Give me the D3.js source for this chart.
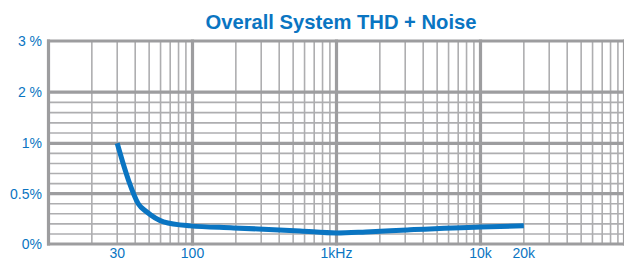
<!DOCTYPE html>
<html>
<head>
<meta charset="utf-8">
<script src="https://cdn.jsdelivr.net/npm/d3@7"></script>
<style>
  html, body { margin: 0; padding: 0; background: #fff; }
  svg { display: block; font-family: "Liberation Sans", Arial, sans-serif; }
</style>
</head>
<body>
<svg id="chart" width="624" height="261"></svg>
<script>
// values
var freqs = [30, 36, 42, 48, 63, 96, 193, 558, 1000, 1600, 3100, 10000, 20000];
var thd = [1.0, 0.63, 0.40, 0.32, 0.22, 0.18, 0.16, 0.13, 0.11, 0.12, 0.14, 0.17, 0.18];

var xLabels = [30, 100, 1000, 10000, 20000];
var xLabelText = ['30', '100', '1kHz', '10k', '20k'];
var yLabels = [0, 0.5, 1, 2, 3];
var yLabelText = ['0%', '0.5%', '1%', '2 %', '3 %'];
var yMajor = [0, 0.5, 1, 2, 3];
var yMinor = [0.1, 0.2, 0.3, 0.4, 0.6, 0.7, 0.8, 0.9, 1.2, 1.4, 1.6, 1.8];

var blue = '#0a75c2';
var gridThin = '#aeaeb0';
var gridThick = '#9d9d9f';

var svg = d3.select('#chart');

var x = d3.scaleLog()
  .domain([10, 100000])
  .range([48.5, 624.5]);

var y = d3.scaleLinear()
  .domain([0, 1, 3])
  .range([244, 143.3, 41]);

var g = svg.append('g');

function isDecade(d) {
  var l = Math.log10(d);
  return Math.abs(l - Math.round(l)) < 1e-9;
}

// vertical grid
var xTicks = x.ticks();
g.selectAll('.vgrid')
  .data(xTicks.filter(function(d) { return !isDecade(d); }))
  .enter()
  .append('line')
  .attr('x1', function(d) { return x(d); })
  .attr('x2', function(d) { return x(d); })
  .attr('y1', y(3))
  .attr('y2', y(0))
  .attr('stroke', gridThin)
  .attr('stroke-width', 1.6);

// horizontal grid
g.selectAll('.hminor')
  .data(yMinor)
  .enter()
  .append('line')
  .attr('x1', x(10))
  .attr('x2', 624)
  .attr('y1', function(d) { return y(d); })
  .attr('y2', function(d) { return y(d); })
  .attr('stroke', gridThin)
  .attr('stroke-width', 1.6);

g.selectAll('.vmajor')
  .data(xTicks.filter(isDecade))
  .enter()
  .append('line')
  .attr('x1', function(d) { return x(d); })
  .attr('x2', function(d) { return x(d); })
  .attr('y1', y(3) - 1.5)
  .attr('y2', y(0) + 1.5)
  .attr('stroke', gridThick)
  .attr('stroke-width', 3.2);

g.selectAll('.hmajor')
  .data(yMajor)
  .enter()
  .append('line')
  .attr('x1', x(10) - 1.5)
  .attr('x2', 624)
  .attr('y1', function(d) { return y(d); })
  .attr('y2', function(d) { return y(d); })
  .attr('stroke', gridThick)
  .attr('stroke-width', 3.2);

// curve
var line = d3.line()
  .x(function(d, i) { return x(freqs[i]); })
  .y(function(d) { return y(d); })
  .curve(d3.curveMonotoneX);

svg.append('path')
  .datum(thd)
  .attr('d', line)
  .attr('fill', 'none')
  .attr('stroke', blue)
  .attr('stroke-width', 5);

// labels
svg.selectAll('.ylab')
  .data(yLabels)
  .enter()
  .append('text')
  .attr('x', 42)
  .attr('y', function(d) { return y(d) + 5; })
  .attr('text-anchor', 'end')
  .attr('fill', blue)
  .attr('font-size', 14)
  .text(function(d, i) { return yLabelText[i]; });

svg.selectAll('.xlab')
  .data(xLabels)
  .enter()
  .append('text')
  .attr('x', function(d) { return x(d); })
  .attr('y', 258)
  .attr('text-anchor', 'middle')
  .attr('fill', blue)
  .attr('font-size', 14)
  .text(function(d, i) { return xLabelText[i]; });

svg.append('text')
  .attr('x', 341)
  .attr('y', 29)
  .attr('text-anchor', 'middle')
  .attr('fill', blue)
  .attr('font-size', 20.2)
  .attr('font-weight', 'bold')
  .text('Overall System THD + Noise');
</script>
</body>
</html>
